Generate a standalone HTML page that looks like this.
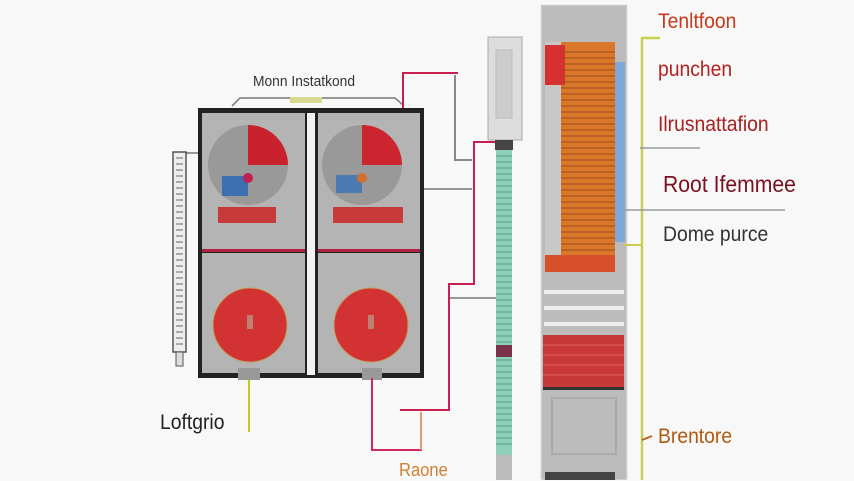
<!DOCTYPE html>
<html><head><style>
body{margin:0;width:854px;height:480px;background:#f8f8f8;position:relative;overflow:hidden;font-family:"Liberation Sans",sans-serif}
.a{position:absolute}
.t{position:absolute;font-family:"Liberation Sans",sans-serif;white-space:nowrap;transform-origin:0 0;transform:scaleX(0.92)}
</style></head><body>
<svg class="a" style="left:0;top:0" width="854" height="480">
<rect x="198" y="108" width="226" height="270" fill="#222"/>
<rect x="202" y="113" width="103" height="136" fill="#b4b4b4"/>
<rect x="318" y="113" width="102" height="136" fill="#b4b4b4"/>
<rect x="202" y="253" width="103" height="120" fill="#b4b4b4"/>
<rect x="318" y="253" width="102" height="120" fill="#b4b4b4"/>
<rect x="307" y="113" width="8" height="262" fill="#f2f2f2"/>
<rect x="202" y="249" width="103" height="3" fill="#b02040"/>
<rect x="318" y="249" width="102" height="3" fill="#b02040"/>
<circle cx="248" cy="165" r="40" fill="#999"/>
<path d="M248 165 L248 125 A40 40 0 0 1 288 165 Z" fill="#c8232c"/>
<rect x="222" y="176" width="26" height="20" fill="#3b6fb0"/>
<circle cx="248" cy="178" r="5" fill="#c02050"/>
<circle cx="362" cy="165" r="40" fill="#999"/>
<path d="M362 165 L362 125 A40 40 0 0 1 402 165 Z" fill="#cc2530"/>
<rect x="336" y="175" width="26" height="18" fill="#4a7ab0"/>
<circle cx="362" cy="178" r="5" fill="#d07030"/>
<rect x="218" y="207" width="58" height="16" fill="#c83a3a"/>
<rect x="333" y="207" width="70" height="16" fill="#c83a3a"/>
<circle cx="250" cy="325" r="37" fill="#d23232" stroke="#c0a060" stroke-width="1"/>
<circle cx="371" cy="325" r="37" fill="#d23232" stroke="#c0a060" stroke-width="1"/>
<rect x="247" y="315" width="6" height="14" fill="#c08070"/>
<rect x="368" y="315" width="6" height="14" fill="#c08070"/>
<rect x="238" y="368" width="22" height="12" fill="#999"/>
<rect x="362" y="368" width="20" height="12" fill="#999"/>
<path d="M232 106 L240 98 L395 98 L404 106" fill="none" stroke="#777" stroke-width="1.5"/>
<rect x="290" y="97" width="32" height="6" fill="#d8d890"/>
<rect x="173" y="152" width="13" height="200" fill="#eee" stroke="#555" stroke-width="1.5"/>
<path d="M176 158 H183 M176 164 H183 M176 170 H183 M176 176 H183 M176 182 H183 M176 188 H183 M176 194 H183 M176 200 H183 M176 206 H183 M176 212 H183 M176 218 H183 M176 224 H183 M176 230 H183 M176 236 H183 M176 242 H183 M176 248 H183 M176 254 H183 M176 260 H183 M176 266 H183 M176 272 H183 M176 278 H183 M176 284 H183 M176 290 H183 M176 296 H183 M176 302 H183 M176 308 H183 M176 314 H183 M176 320 H183 M176 326 H183 M176 332 H183 M176 338 H183 M176 344 H183" stroke="#666"/>
<rect x="176" y="352" width="7" height="14" fill="#ddd" stroke="#555"/>
<path d="M186 153 H198" stroke="#333"/>
<path d="M403 108 V73 H458" fill="none" stroke="#c81e50" stroke-width="2"/>
<path d="M455 75 V160 H472" fill="none" stroke="#888" stroke-width="2"/>
<path d="M498 142 H474 V284 H449 V410 H400" fill="none" stroke="#c81e50" stroke-width="2"/>
<path d="M424 189 H472 M450 298 H497" stroke="#777" stroke-width="1.5"/>
<path d="M372 378 V450 H421 V412" fill="none" stroke="#d02860" stroke-width="2"/>
<path d="M421 412 V450" stroke="#d8a070" stroke-width="2"/>
<path d="M249 380 V432" stroke="#c8c820" stroke-width="2"/>
<rect x="488" y="37" width="34" height="103" fill="#ddd" stroke="#aaa"/>
<rect x="496" y="50" width="16" height="68" fill="#ccc" stroke="#bbb"/>
<rect x="495" y="140" width="18" height="10" fill="#444"/>
<rect x="496" y="150" width="16" height="305" fill="#8fd0b8"/>
<path d="M496 156 H512 M496 162 H512 M496 168 H512 M496 174 H512 M496 180 H512 M496 186 H512 M496 192 H512 M496 198 H512 M496 204 H512 M496 210 H512 M496 216 H512 M496 222 H512 M496 228 H512 M496 234 H512 M496 240 H512 M496 246 H512 M496 252 H512 M496 258 H512 M496 264 H512 M496 270 H512 M496 276 H512 M496 282 H512 M496 288 H512 M496 294 H512 M496 300 H512 M496 306 H512 M496 312 H512 M496 318 H512 M496 324 H512 M496 330 H512 M496 336 H512 M496 342 H512 M496 348 H512 M496 354 H512 M496 360 H512 M496 366 H512 M496 372 H512 M496 378 H512 M496 384 H512 M496 390 H512 M496 396 H512 M496 402 H512 M496 408 H512 M496 414 H512 M496 420 H512 M496 426 H512 M496 432 H512 M496 438 H512 M496 444 H512" stroke="#5a9a88"/>
<rect x="496" y="345" width="16" height="12" fill="#7a3048"/>
<rect x="496" y="455" width="16" height="25" fill="#bbb"/>
<rect x="541" y="5" width="86" height="475" fill="#bcbcbc" stroke="#ddd"/>
<rect x="545" y="42" width="70" height="230" fill="#d9782a"/>
<rect x="545" y="42" width="16" height="230" fill="#c8c8c8"/>
<rect x="545" y="45" width="20" height="40" fill="#d83030"/>
<rect x="615" y="62" width="10" height="180" fill="#7ea8d8"/>
<path d="M561 52 H615 M561 58 H615 M561 64 H615 M561 70 H615 M561 76 H615 M561 82 H615 M561 88 H615 M561 94 H615 M561 100 H615 M561 106 H615 M561 112 H615 M561 118 H615 M561 124 H615 M561 130 H615 M561 136 H615 M561 142 H615 M561 148 H615 M561 154 H615 M561 160 H615 M561 166 H615 M561 172 H615 M561 178 H615 M561 184 H615 M561 190 H615 M561 196 H615 M561 202 H615 M561 208 H615 M561 214 H615 M561 220 H615 M561 226 H615 M561 232 H615 M561 238 H615 M561 244 H615 M561 250 H615 M561 256 H615 M561 262 H615" stroke="#a04a18"/>
<rect x="545" y="255" width="70" height="17" fill="#d8502a"/>
<rect x="544" y="290" width="80" height="4" fill="#eee"/>
<rect x="544" y="306" width="80" height="4" fill="#eee"/>
<rect x="544" y="322" width="80" height="4" fill="#eee"/>
<rect x="543" y="335" width="81" height="52" fill="#c83838"/>
<path d="M543 345 H624 M543 355 H624 M543 365 H624 M543 375 H624" stroke="#e06060"/>
<rect x="543" y="387" width="81" height="3" fill="#333"/>
<rect x="552" y="398" width="64" height="56" fill="none" stroke="#aaa" stroke-width="2"/>
<rect x="545" y="472" width="70" height="8" fill="#444"/>
<path d="M660 38 H642 V480" fill="none" stroke="#c8d050" stroke-width="2.5"/>
<path d="M624 245 H642" stroke="#c8d050" stroke-width="2"/>
<path d="M640 148 H700 M625 210 H785" stroke="#888" stroke-width="1.2"/>
<path d="M642 440 L652 436" stroke="#c06020" stroke-width="2"/>
</svg>
<div class="t" style="left:253px;top:73px;font-size:15px;color:#333">Monn Instatkond</div>
<div class="t" style="left:160px;top:411px;font-size:21px;color:#222">Loftgrio</div>
<div class="t" style="left:399px;top:460px;font-size:18px;color:#d08030">Raone</div>
<div class="t" style="left:658px;top:10px;font-size:21px;color:#c83a1a">Tenltfoon</div>
<div class="t" style="left:658px;top:58px;font-size:21px;color:#b82020">punchen</div>
<div class="t" style="left:658px;top:113px;font-size:21px;color:#a82020">Ilrusnattafion</div>
<div class="t" style="left:663px;top:171px;font-size:23px;color:#7a1020">Root Ifemmee</div>
<div class="t" style="left:663px;top:223px;font-size:21px;color:#333">Dome purce</div>
<div class="t" style="left:658px;top:425px;font-size:21px;color:#b05a10">Brentore</div>
</body></html>
